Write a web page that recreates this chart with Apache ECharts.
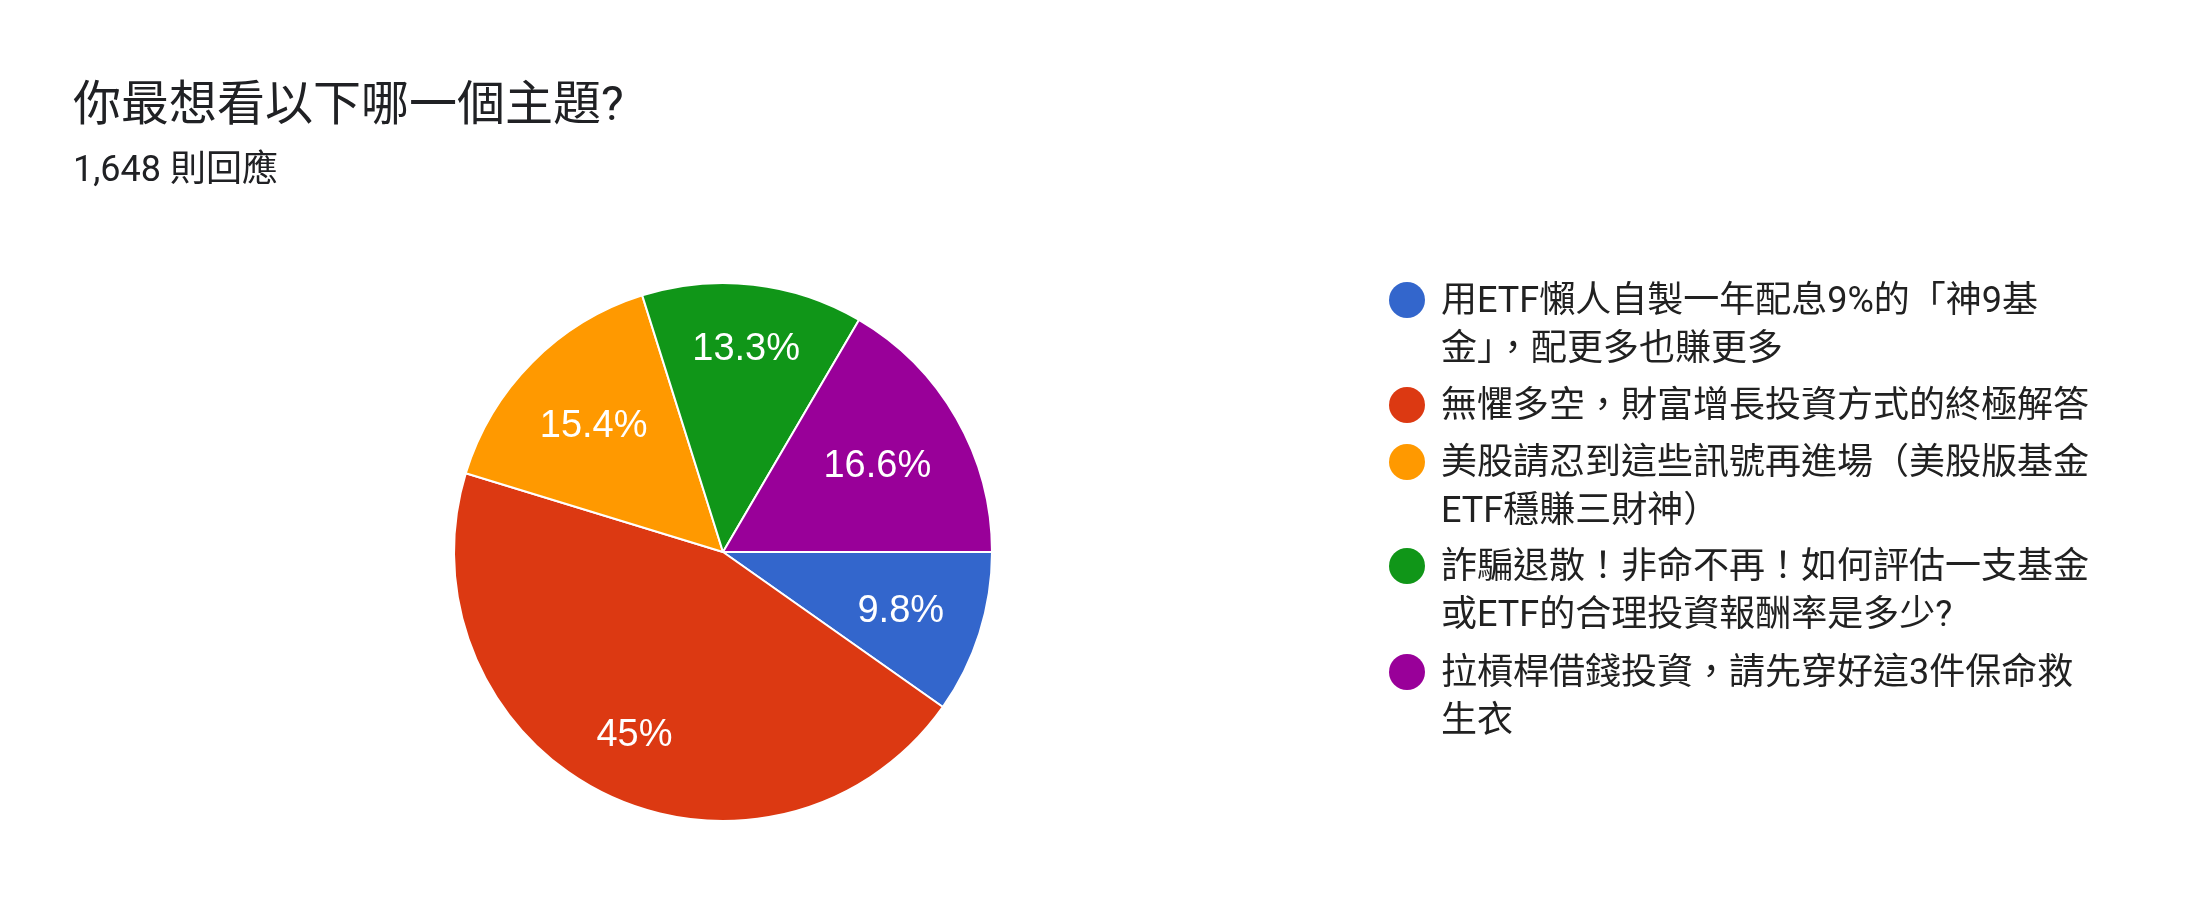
<!DOCTYPE html>
<html>
<head>
<meta charset="utf-8">
<script src="https://cdn.jsdelivr.net/npm/echarts@6/dist/echarts.min.js"></script>
<style>
html,body{margin:0;padding:0;background:#fff;}
#chart{width:2196px;height:924px;}
</style>
</head>
<body>
<div id="chart"></div>
<script>
const titleText = '你最想看以下哪一個主題?';
const subtitleText = '1,648 則回應';
const categories = [
  '用ETF懶人自製一年配息9%的「神9基金」，配更多也賺更多',
  '無懼多空，財富增長投資方式的終極解答',
  '美股請忍到這些訊號再進場（美股版基金ETF穩賺三財神）',
  '詐騙退散！非命不再！如何評估一支基金或ETF的合理投資報酬率是多少?',
  '拉槓桿借錢投資，請先穿好這3件保命救生衣'
];
const legendLines = [
  '用ETF懶人自製一年配息9%的「神9基\n金」，配更多也賺更多',
  '無懼多空，財富增長投資方式的終極解答',
  '美股請忍到這些訊號再進場（美股版基金\nETF穩賺三財神）',
  '詐騙退散！非命不再！如何評估一支基金\n或ETF的合理投資報酬率是多少?',
  '拉槓桿借錢投資，請先穿好這3件保命救\n生衣'
];
const responses = [161, 741, 254, 219, 273];
const colors = ['#3366cc', '#dc3912', '#ff9900', '#109618', '#990099'];

const FONT = "Roboto, 'Noto Sans CJK TC', sans-serif";
const LABEL_FONT = "'Liberation Sans', Arial, sans-serif";
const total = responses.reduce((a, b) => a + b, 0);
const CX = 723, CY = 552, R = 269;
const LABEL_REACH = 0.862; // text box's outer corner sits at this fraction of the radius

const pieData = categories.map((n, i) => ({ name: n, value: responses[i], itemStyle: { color: colors[i] } }));

const legendTops = [279, 384, 441, 545, 651];
const iconOne = 'path://M0,0M47,48M0,21A18,18,0,1,1,36,21A18,18,0,1,1,0,21Z';
const iconTwo = 'path://M0,0M47,96M0,21A18,18,0,1,1,36,21A18,18,0,1,1,0,21Z';

const legends = categories.map((n, i) => {
  const two = legendLines[i].indexOf('\n') >= 0;
  return {
    left: 1389,
    top: legendTops[i],
    padding: 0,
    orient: 'vertical',
    selectedMode: false,
    itemWidth: 47,
    itemHeight: two ? 96 : 48,
    itemStyle: { borderWidth: 0 },
    data: [{ name: n, icon: two ? iconTwo : iconOne }],
    formatter: () => legendLines[i],
    textStyle: { fontSize: 36, lineHeight: 48, color: '#212121', fontFamily: FONT }
  };
});

const chart = echarts.init(document.getElementById('chart'), null, { renderer: 'canvas' });
chart.setOption({
  backgroundColor: '#ffffff',
  animation: false,
  title: {
    text: titleText,
    subtext: subtitleText,
    left: 73,
    top: 84,
    padding: 0,
    itemGap: 22,
    textStyle: { fontSize: 48, lineHeight: 48, fontWeight: 'normal', color: '#202124', fontFamily: FONT },
    subtextStyle: { fontSize: 36, lineHeight: 36, color: '#202124', fontFamily: FONT }
  },
  legend: legends,
  series: [
    {
      type: 'pie',
      center: [CX, CY],
      radius: [0, R],
      startAngle: 0,
      clockwise: true,
      avoidLabelOverlap: false,
      itemStyle: { borderColor: '#ffffff', borderWidth: 2 },
      emphasis: { disabled: true },
      labelLine: { show: false },
      label: {
        show: true,
        position: 'inside',
        color: '#ffffff',
        fontSize: 38,
        fontFamily: LABEL_FONT,
        formatter: p => {
          const v = (p.value / total * 100).toFixed(1).replace(/\.0$/, '');
          return v + '%';
        }
      },
      labelLayout: params => {
        const rect = params.labelRect;
        const mx = rect.x + rect.width / 2 - CX;
        const my = rect.y + rect.height / 2 - CY;
        const len = Math.sqrt(mx * mx + my * my) || 1;
        const ux = mx / len, uy = my / len;
        const hw = rect.width / 2, hh = rect.height * 0.36;
        const reach = R * LABEL_REACH;
        const b = Math.abs(ux) * hw + Math.abs(uy) * hh;
        const c = hw * hw + hh * hh - reach * reach;
        const t = -b + Math.sqrt(b * b - c);
        return { x: CX + ux * t, y: CY + uy * t + 3 };
      },
      data: pieData
    }
  ]
});
</script>
</body>
</html>
